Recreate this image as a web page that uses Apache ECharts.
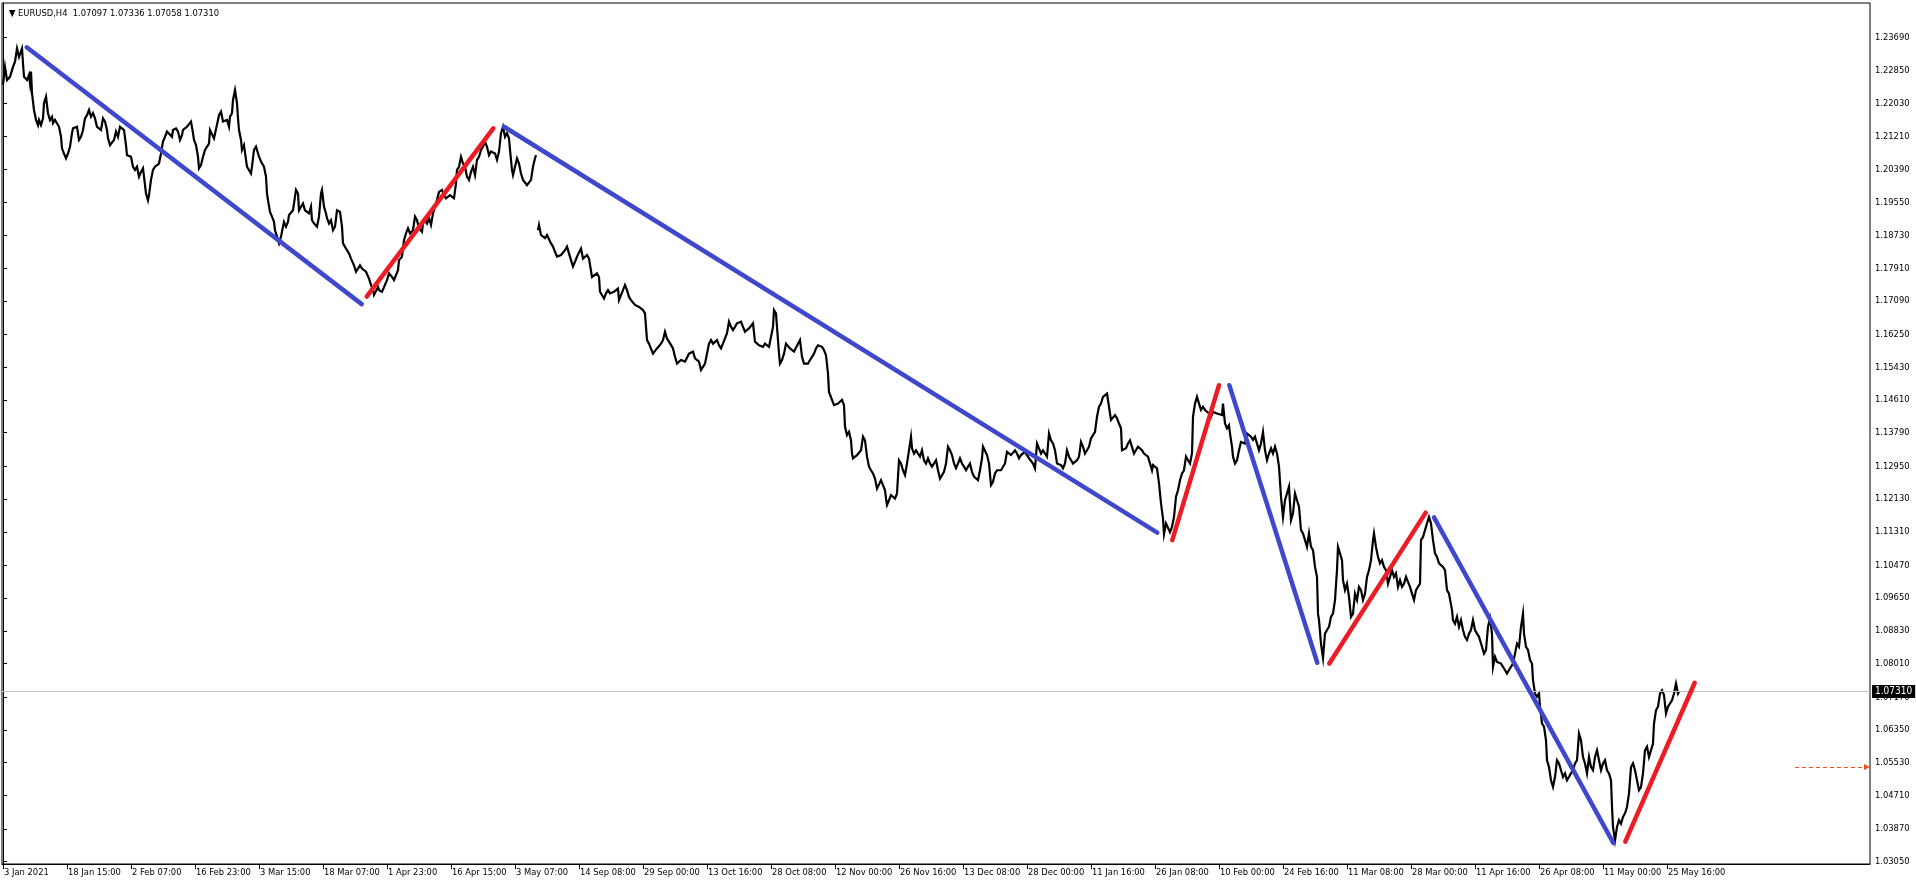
<!DOCTYPE html>
<html>
<head>
<meta charset="utf-8">
<style>
html,body{margin:0;padding:0;background:#fff;}
#chart{width:1916px;height:885px;}
</style>
<script src="https://cdn.jsdelivr.net/npm/echarts@6/dist/echarts.min.js"></script>
</head>
<body>
<div id="chart"></div>
<script>
// ---- data ----
const titleText = '▼ EURUSD,H4  1.07097 1.07336 1.07058 1.07310';

const xTickIndex = [0,64,128,192,256,320,384,448,512,576,640,704,768,832,896,960,1024,1088,1152,1216,1280,1344,1408,1472,1536,1600,1664];
const xTickLabels = ['3 Jan 2021','18 Jan 15:00','2 Feb 07:00','16 Feb 23:00','3 Mar 15:00','18 Mar 07:00','1 Apr 23:00','16 Apr 15:00','3 May 07:00','14 Sep 08:00','29 Sep 00:00','13 Oct 16:00','28 Oct 08:00','12 Nov 00:00','26 Nov 16:00','13 Dec 08:00','28 Dec 00:00','11 Jan 16:00','26 Jan 08:00','10 Feb 00:00','24 Feb 16:00','11 Mar 08:00','28 Mar 00:00','11 Apr 16:00','26 Apr 08:00','11 May 00:00','25 May 16:00'];

const yTickValues = [1.03050,1.03870,1.04710,1.05530,1.06350,1.07170,1.08010,1.08830,1.09650,1.10470,1.11310,1.12130,1.12950,1.13790,1.14610,1.15430,1.16250,1.17090,1.17910,1.18730,1.19550,1.20390,1.21210,1.22030,1.22850,1.23690];

const barIndex = [
0,2,4,7,10,12,14,16,19,20,21,24,26,27,28,29,31,33,35,36,38,40,41,43,45,47,49,50,52,54,56,58,59,61,63,65,67,69,70,72,74,76,78,80,82,84,86,88,90,92,94,96,98,100,102,104,105,107,109,111,113,115,117,119,121,123,124,126,128,130,132,134,136,138,140,141,143,145,146,148,150,152,154,156,158,160,162,164,166,169,170,173,175,177,179,180,182,184,186,188,190,191,193,195,196,198,200,202,204,206,207,209,211,213,215,216,218,220,222,224,226,227,229,230,232,234,235,236,238,239,241,243,244,246,248,249,251,253,255,256,258,260,261,263,264,265,267,269,271,272,274,276,278,280,281,283,285,286,288,290,292,293,295,296,298,300,302,304,306,308,309,311,313,314,316,318,319,321,323,324,326,328,330,332,334,336,337,339,340,342,344,346,348,350,351,353,355,357,359,361,363,365,366,368,370,371,373,375,
376,379,381,384,386,389,391,393,395,396,399,401,403,405,407,410,412,414,416,419,420,422,424,426,428,430,432,434,436,439,441,443,445,447,449,451,453,454,456,458,460,462,464,466,468,470,472,474,476,478,480,482,484,486,488,490,492,494,496,498,500,502,504,506,507,509,510,512,514,516,518,520,522,524,526,528,530,532,533,534,
535,536,538,540,542,544,546,548,550,552,554,556,558,560,562,564,566,568,570,572,574,576,578,580,582,584,586,588,589,591,594,596,597,599,601,603,605,607,609,611,613,615,616,618,620,622,624,626,628,630,632,634,636,638,640,642,643,644,646,648,650,652,654,656,658,660,662,664,666,668,670,672,674,676,678,680,682,684,686,688,690,692,694,696,698,700,702,704,706,708,710,712,714,716,718,720,722,724,726,728,730,732,734,736,738,740,742,744,746,748,750,752,754,756,758,760,762,764,766,768,770,771,773,774,776,777,779,781,783,785,787,789,791,793,795,797,799,801,803,805,807,809,811,813,815,817,819,821,823,825,826,
827,829,831,833,835,837,839,841,842,844,846,848,849,850,852,854,856,858,860,862,864,866,868,870,872,874,876,878,880,882,883,884,886,888,890,892,894,895,896,898,900,902,904,906,908,909,911,913,915,917,919,921,923,925,927,929,931,933,935,937,939,941,943,945,947,949,951,953,955,957,959,961,963,965,967,969,971,973,975,977,979,980,982,984,986,988,990,992,994,996,998,1000,1002,1004,1006,1008,1010,1012,1014,1016,1018,1020,1022,1024,1026,1028,1030,1032,1034,1036,1038,1040,1042,1044,1046,1048,1050,1052,1054,1056,1058,1060,1062,1064,1066,1068,1070,1072,1074,1076,1078,1080,1082,1084,1086,1088,1090,1092,1094,1096,1098,1100,1102,1104,1106,1108,1110,1112,1114,1116,1118,1119,1121,1123,1125,1127,1129,1131,1133,1135,1137,1139,1141,1143,1145,1147,1149,1150,1152,1154,1156,1157,1158,1160,1161,1163,1165,1167,1169,1171,1173,1175,1177,1179,1181,1183,1185,1187,1189,1190,1192,1194,1196,1198,1200,1202,1204,1206,1208,1210,1212,1214,1216,
1219,1220,1222,1224,1226,1227,1229,1230,1232,1234,1236,1238,1240,1242,1244,1246,1248,1250,1252,1254,1256,1258,1260,1262,1264,1266,1268,1270,1272,1274,1276,1278,1280,1282,1284,1286,1288,1290,1292,1294,1296,1298,1300,1302,1304,1306,1308,1310,1312,1314,1315,1316,1318,1320,1322,1324,1326,1328,1330,1332,1334,1335,1337,1339,1340,1342,1344,1346,1348,1350,1352,1354,1356,1358,1360,1362,1364,1366,1368,1370,1371,1373,1375,1377,1379,1381,1383,1385,1387,1389,1391,1393,1395,1397,1399,1401,1403,1405,1407,1409,1411,1413,1415,1417,1418,1420,1422,1424,1426,1428,1430,1432,1434,1436,1438,1440,1442,1444,1446,1448,1449,1450,1452,1454,1456,1458,1460,1462,1464,1466,1468,1470,1472,1474,1476,
1477,1479,1481,1483,1485,1487,1489,1490,1492,1494,1496,1498,1500,1502,1504,1506,1508,1510,1512,1514,1516,1518,1520,1521,1523,1525,1527,1529,1530,1532,1534,1536,1537,1539,1541,1543,1544,1546,1548,1550,1552,1554,1556,1558,1560,1562,1564,1566,1568,1570,1572,1574,1576,1578,1580,1582,1584,1586,1588,1590,1592,1594,1596,1598,1600,1602,1604,1606,1608,1609,1610,1612,1614,1616,1618,1620,1622,1624,1626,1628,1630,1632,1634,1636,1638,1640,1642,1644,1646,1648,1650,1651,1653,1655,1657,1659,1661,1663,1665,1667,1669,1671,1673,1675,1676
];

const closeValue = [
1.2250,1.2295,1.2262,1.2270,1.2295,1.2308,1.2341,1.2320,1.2341,1.2304,1.2270,1.2262,1.2275,1.2254,1.2283,1.2229,1.2187,1.2162,1.2149,1.2162,1.2149,1.2166,1.2204,1.2220,1.2179,1.2162,1.2170,1.2154,1.2162,1.2158,1.2145,1.2120,1.2091,1.2078,1.2066,1.2078,1.2095,1.2129,1.2141,1.2137,1.2145,1.2112,1.2120,1.2137,1.2166,1.2174,1.2187,1.2170,1.2179,1.2166,1.2145,1.2141,1.2137,1.2166,1.2158,1.2137,1.2116,1.2099,1.2099,1.2112,1.2133,1.2120,1.2145,1.2141,1.2137,1.2099,1.2074,1.2078,1.2070,1.2045,1.2037,1.2045,1.2020,1.2032,1.2041,1.2020,1.1978,1.1961,1.1974,1.2012,1.2037,1.2045,1.2045,1.2053,1.2078,1.2108,1.2120,1.2133,1.2129,1.2120,1.2137,1.2141,1.2133,1.2112,1.2124,1.2137,1.2133,1.2145,1.2141,1.2158,1.2129,1.2112,1.2099,1.2070,1.2041,1.2049,1.2070,1.2087,1.2091,1.2103,1.2137,1.2133,1.2116,1.2120,1.2162,1.2174,1.2183,1.2158,1.2154,1.2162,1.2145,1.2170,1.2179,1.2212,1.2237,1.2204,1.2166,1.2137,1.2112,1.2087,1.2099,1.2062,1.2045,1.2049,1.2028,1.2045,1.2087,1.2095,1.2099,1.2070,1.2058,1.2062,1.2045,1.2020,1.1978,1.1961,1.1932,1.1920,1.1907,1.1886,1.1870,1.1853,1.1870,1.1895,1.1907,1.1895,1.1907,1.1924,1.1928,1.1936,1.1970,1.1987,1.1978,1.1936,1.1932,1.1953,1.1936,1.1932,1.1928,1.1945,1.1911,1.1903,1.1903,1.1895,1.1920,1.1978,1.1987,1.1945,1.1928,1.1916,1.1903,1.1911,1.1886,1.1895,1.1936,1.1941,1.1932,1.1895,1.1853,1.1849,1.1836,1.1828,1.1815,1.1811,1.1798,1.1782,1.1790,1.1798,1.1790,1.1786,1.1782,1.1778,1.1765,1.1749,1.1736,1.1724,1.1719,1.1744,
1.1736,1.1732,1.1736,1.1761,1.1778,1.1769,1.1761,1.1757,1.1786,1.1811,1.1820,1.1861,1.1878,1.1891,1.1878,1.1886,1.1920,1.1911,1.1891,1.1882,1.1903,1.1911,1.1903,1.1916,1.1899,1.1928,1.1945,1.1962,1.1982,1.1987,1.1974,1.1966,1.1970,1.1974,1.1978,1.1966,1.2003,1.2037,1.2045,1.2070,1.2053,1.2045,1.2020,1.2012,1.2032,1.2045,1.2024,1.2062,1.2070,1.2087,1.2095,1.2108,1.2095,1.2074,1.2083,1.2087,1.2078,1.2062,1.2083,1.2129,1.2145,1.2120,1.2129,1.2116,1.2087,1.2037,1.2024,1.2045,1.2066,1.2053,1.2028,1.2012,1.2016,1.1999,1.2003,1.2012,1.2045,1.2066,1.2074,null,
1.1886,1.1899,1.1874,1.1870,1.1866,1.1874,1.1878,1.1853,1.1845,1.1832,1.1820,1.1815,1.1824,1.1828,1.1836,1.1845,1.1828,1.1811,1.1795,1.1807,1.1820,1.1820,1.1840,1.1815,1.1811,1.1824,1.1815,1.1811,1.1769,1.1765,1.1778,1.1769,1.1732,1.1728,1.1715,1.1728,1.1736,1.1728,1.1732,1.1732,1.1732,1.1740,1.1711,1.1711,1.1736,1.1749,1.1736,1.1719,1.1711,1.1707,1.1699,1.1703,1.1694,1.1690,1.1686,1.1678,1.1644,1.1611,1.1602,1.1607,1.1577,1.1573,1.1590,1.1594,1.1602,1.1611,1.1632,1.1615,1.1607,1.1602,1.1590,1.1569,1.1552,1.1557,1.1561,1.1565,1.1557,1.1552,1.1577,1.1577,1.1582,1.1565,1.1561,1.1557,1.1536,1.1544,1.1552,1.1577,1.1602,1.1611,1.1602,1.1598,1.1611,1.1598,1.1590,1.1594,1.1615,1.1628,1.1657,1.1644,1.1636,1.1644,1.1653,1.1649,1.1657,1.1644,1.1632,1.1628,1.1640,1.1644,1.1653,1.1607,1.1602,1.1598,1.1602,1.1594,1.1602,1.1598,1.1594,1.1598,1.1644,1.1686,1.1678,1.1644,1.1577,1.1552,1.1561,1.1577,1.1602,1.1607,1.1590,1.1586,1.1582,1.1586,1.1602,1.1611,1.1569,1.1552,1.1548,1.1552,1.1561,1.1569,1.1577,1.1590,1.1598,1.1594,1.1594,1.1586,1.1573,1.1527,1.1481,
1.1477,1.1461,1.1448,1.1444,1.1452,1.1448,1.1461,1.1448,1.1394,1.1373,1.1381,1.1360,1.1327,1.1315,1.1319,1.1323,1.1327,1.1335,1.1369,1.1360,1.1319,1.1294,1.1285,1.1277,1.1264,1.1239,1.1244,1.1260,1.1248,1.1235,1.1214,1.1198,1.1210,1.1223,1.1219,1.1214,1.1227,1.1269,1.1310,1.1302,1.1285,1.1273,1.1302,1.1335,1.1369,1.1340,1.1327,1.1335,1.1327,1.1319,1.1335,1.1310,1.1302,1.1315,1.1302,1.1294,1.1290,1.1310,1.1285,1.1264,1.1260,1.1281,1.1302,1.1344,1.1335,1.1323,1.1302,1.1290,1.1302,1.1315,1.1302,1.1294,1.1285,1.1294,1.1302,1.1281,1.1269,1.1264,1.1260,1.1285,1.1315,1.1344,1.1340,1.1323,1.1302,1.1248,1.1256,1.1277,1.1285,1.1281,1.1285,1.1281,1.1302,1.1331,1.1335,1.1323,1.1323,1.1335,1.1327,1.1315,1.1323,1.1327,1.1331,1.1323,1.1315,1.1319,1.1302,1.1290,1.1352,1.1340,1.1327,1.1335,1.1327,1.1319,1.1377,1.1360,1.1352,1.1335,1.1302,1.1306,1.1298,1.1290,1.1302,1.1335,1.1319,1.1315,1.1302,1.1298,1.1310,1.1319,1.1356,1.1344,1.1327,1.1335,1.1344,1.1365,1.1369,1.1381,1.1419,1.1444,1.1452,1.1469,1.1465,1.1477,1.1444,1.1411,1.1415,1.1423,1.1415,1.1402,1.1390,1.1335,1.1331,1.1340,1.1352,1.1360,1.1356,1.1327,1.1327,1.1344,1.1348,1.1335,1.1327,1.1323,1.1319,1.1302,1.1285,1.1298,1.1302,1.1290,1.1252,1.1227,1.1202,1.1164,1.1125,1.1152,1.1156,1.1130,1.1143,1.1168,1.1219,1.1235,1.1260,1.1277,1.1285,1.1319,1.1310,1.1302,1.1327,1.1419,1.1452,1.1469,1.1452,1.1436,1.1444,1.1436,1.1440,1.1427,1.1419,1.1431,1.1436,1.1427,1.1427,
1.1423,1.1452,1.1402,1.1390,1.1398,1.1377,1.1344,1.1319,1.1302,1.1310,1.1335,1.1356,1.1361,1.1352,1.1377,1.1381,1.1369,1.1361,1.1369,1.1365,1.1335,1.1352,1.1381,1.1335,1.1310,1.1327,1.1340,1.1327,1.1344,1.1327,1.1294,1.1219,1.1168,1.1210,1.1227,1.1244,1.1160,1.1177,1.1227,1.1210,1.1194,1.1135,1.1127,1.1110,1.1093,1.1127,1.1093,1.1085,1.1043,1.1018,1.0926,1.0910,1.0851,1.0815,1.0876,1.0885,1.0893,1.0918,1.0926,1.0960,1.1035,1.1093,1.1077,1.1060,1.1010,1.0985,1.1001,1.0968,1.0918,1.0926,1.0976,1.0960,1.0993,1.0985,1.0960,1.0976,1.1018,1.1035,1.1060,1.1110,1.1127,1.1093,1.1068,1.1052,1.1060,1.1043,1.1035,1.1001,1.1018,1.1035,1.1018,1.1027,1.0993,1.1010,1.0993,1.1001,1.1018,1.1018,1.0993,1.0976,1.0960,1.0985,1.0993,1.1001,1.1110,1.1118,1.1135,1.1152,1.1168,1.1152,1.1110,1.1077,1.1068,1.1052,1.1052,1.1043,1.1035,1.0985,1.0976,1.0976,1.0935,1.0910,1.0901,1.0918,1.0893,1.0910,1.0885,1.0868,1.0860,1.0876,1.0885,1.0910,1.0885,1.0876,1.0868,
1.0868,1.0843,1.0826,1.0835,1.0893,1.0914,1.0876,1.0793,1.0818,1.0805,1.0805,1.0801,1.0805,1.0785,1.0776,1.0785,1.0793,1.0801,1.0826,1.0851,1.0843,1.0893,1.0926,1.0876,1.0843,1.0835,1.0810,1.0801,1.0760,1.0726,1.0718,1.0726,1.0693,1.0651,1.0643,1.0609,1.0559,1.0542,1.0509,1.0492,1.0517,1.0559,1.0551,1.0534,1.0517,1.0526,1.0509,1.0509,1.0526,1.0534,1.0551,1.0559,1.0626,1.0609,1.0567,1.0551,1.0526,1.0567,1.0542,1.0534,1.0567,1.0584,1.0559,1.0534,1.0551,1.0559,1.0534,1.0526,1.0509,1.0442,1.0392,1.0358,1.0392,1.0409,1.0400,1.0417,1.0426,1.0442,1.0476,1.0542,1.0551,1.0534,1.0509,1.0484,1.0492,1.0526,1.0584,1.0593,1.0567,1.0567,1.0601,1.0651,1.0684,1.0693,1.0726,1.0734,1.0722,1.0676,1.0693,1.0693,1.0709,1.0726,1.0751,1.0726,1.0731
];

// trend lines: [startBar, startPrice, endBar, endPrice]
const blueLines = [
  [23.7, 1.2344, 358.7, 1.1701],
  [501, 1.2145, 1154.3, 1.1129],
  [1226.3, 1.1498, 1314.3, 1.0803],
  [1431, 1.1167, 1610.3, 1.0352]
];
const redLines = [
  [363.7, 1.1720, 490.3, 1.2141],
  [1169.3, 1.1110, 1216, 1.1498],
  [1326.3, 1.0801, 1422.7, 1.1179],
  [1622.3, 1.0355, 1691.7, 1.0753]
];
const lastPrice = 1.07310;
const arrowLevel = [1792, 1864, 1.0542];
const xRange = [-1, 1867];
const yRange = [1.02992, 1.24549];

// ---- chart ----
const chart = echarts.init(document.getElementById('chart'), null, {renderer: 'canvas'});
const FONT = '"Liberation Sans Narrow","DejaVu Sans Condensed","Liberation Sans",sans-serif';
const FS = 9.3;

const priceData = barIndex.map((b, k) => [b, closeValue[k] === null ? '-' : closeValue[k]]);

const series = [{
  type: 'line',
  data: priceData,
  showSymbol: false,
  symbol: 'none',
  connectNulls: false,
  lineStyle: {color: '#000', width: 2.2, join: 'miter'},
  z: 2,
  animation: false,
  markLine: {
    silent: true,
    symbol: ['none', 'none'],
    animation: false,
    data: [
      [
        {coord: [xRange[0], lastPrice], symbol: 'none'},
        {coord: [xRange[1], lastPrice], symbol: 'none',
         lineStyle: {color: '#C0C0C0', width: 1, type: 'solid'},
         label: {
           show: true, position: 'end', distance: 2,
           formatter: lastPrice.toFixed(5),
           color: '#fff', backgroundColor: '#000',
           padding: [2, 3, 1, 3], fontSize: 10, fontFamily: FONT
         }}
      ],
      [
        {coord: [arrowLevel[0], arrowLevel[2]], symbol: 'none'},
        {coord: [arrowLevel[1], arrowLevel[2]], symbol: 'triangle', symbolSize: [6, 6], symbolRotate: -90,
         lineStyle: {color: '#F0501E', width: 1, type: [4, 3]}, label: {show: false}}
      ]
    ]
  }
}];

blueLines.forEach(l => series.push({
  type: 'line', data: [[l[0], l[1]], [l[2], l[3]]], showSymbol: false, symbol: 'none',
  lineStyle: {color: '#3F48CC', width: 4.5, cap: 'round'}, z: 5, animation: false, silent: true
}));
redLines.forEach(l => series.push({
  type: 'line', data: [[l[0], l[1]], [l[2], l[3]]], showSymbol: false, symbol: 'none',
  lineStyle: {color: '#ED1C24', width: 4.5, cap: 'round'}, z: 5, animation: false, silent: true
}));

chart.setOption({
  animation: false,
  backgroundColor: '#fff',
  title: {
    text: titleText, left: 4, top: 4,
    textStyle: {fontSize: FS, fontWeight: 'normal', color: '#000', fontFamily: FONT}
  },
  grid: {left: 2, top: 3, right: 46, bottom: 21, show: true, borderColor: '#000', borderWidth: 1, backgroundColor: '#fff'},
  xAxis: {
    type: 'value', min: xRange[0], max: xRange[1],
    axisLine: {show: true, lineStyle: {color: '#000', width: 1}},
    axisTick: {show: true, customValues: xTickIndex, length: 5, lineStyle: {color: '#000'}},
    axisLabel: {
      customValues: xTickIndex, align: 'left', margin: 4, padding: [0, 0, 0, 1],
      fontSize: FS, color: '#000', fontFamily: FONT,
      formatter: v => xTickLabels[xTickIndex.indexOf(v)] || ''
    },
    splitLine: {show: false}
  },
  yAxis: {
    type: 'value', position: 'right', min: yRange[0], max: yRange[1], scale: true,
    axisLine: {show: true, lineStyle: {color: '#000', width: 1}},
    axisTick: {show: true, customValues: yTickValues, length: 4, lineStyle: {color: '#000'}},
    axisLabel: {
      customValues: yTickValues, margin: 5, fontSize: FS, color: '#000', fontFamily: FONT,
      formatter: v => v.toFixed(5)
    },
    splitLine: {show: false}
  },
  series: series
});
</script>
</body>
</html>
